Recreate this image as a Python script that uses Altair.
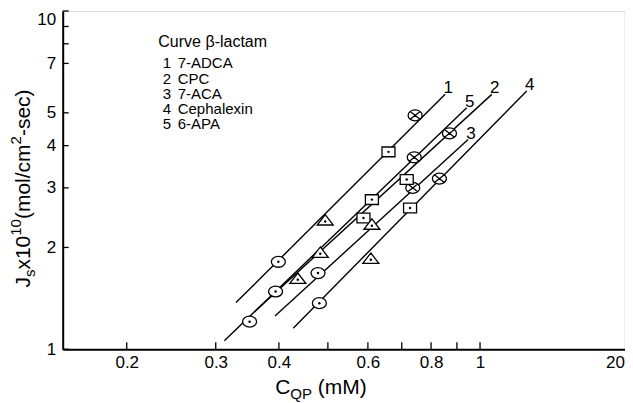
import json
import altair as alt
import pandas as pd

# ---------------- data ----------------
curve_ids = ["1", "2", "3", "4", "5"]
curve_names = ["7-ADCA", "CPC", "7-ACA", "Cephalexin", "6-APA"]
legend_header = "Curve β-lactam"

line_curve = ["1", "5", "2", "3", "4"]
line_x_start = [0.329, 0.312, 0.358, 0.393, 0.427]
line_y_start = [1.374, 1.060, 1.292, 1.255, 1.154]
line_x_end = [0.853, 0.941, 1.055, 0.947, 1.237]
line_y_end = [5.67, 5.18, 5.67, 4.17, 5.80]

point_curve = ["1", "1", "1", "1",
               "5", "5", "5", "5", "5",
               "2", "2", "2", "2",
               "3", "3", "3",
               "4", "4", "4", "4"]
point_marker = ["dot-circle", "triangle", "square", "cross-circle",
                "dot-circle", "dot-circle", "triangle", "square", "cross-circle",
                "triangle", "square", "square", "cross-circle",
                "dot-circle", "triangle", "cross-circle",
                "dot-circle", "triangle", "square", "cross-circle"]
point_x = [0.399, 0.494, 0.659, 0.744,
           0.350, 0.394, 0.483, 0.611, 0.741,
           0.436, 0.588, 0.716, 0.870,
           0.478, 0.611, 0.736,
           0.481, 0.608, 0.727, 0.831]
point_y = [1.814, 2.388, 3.834, 4.913,
           1.207, 1.482, 1.916, 2.770, 3.693,
           1.605, 2.444, 3.175, 4.346,
           1.680, 2.320, 2.999,
           1.369, 1.839, 2.617, 3.196]

x_tick_values = [0.2, 0.3, 0.4, 0.5, 0.6, 0.7, 0.8, 0.9, 1.0]
x_label_values = [0.2, 0.3, 0.4, 0.6, 0.8, 1.0, 1.931]
x_label_text = ["0.2", "0.3", "0.4", "0.6", "0.8", "1", "20"]
y_tick_values = [1, 2, 3, 4, 5, 7, 8, 9, 10]
y_label_values = [1, 2, 3, 4, 5, 7, 10]
y_label_text = ["1", "2", "3", "4", "5", "7", "10"]
x_domain = [0.1494, 1.931]
y_domain = [1, 10]

# ---------------- layout / style ----------------
FONT = "Liberation Sans"
PAD_L, PAD_T, PAD_R, PAD_B = 54.7, 3, 0.5, 53.7
W, H = 561.8, 338.3
TITLE_F, SMALL_F = 21, 15

ADV = {'J': 500, 's': 500, 'x': 500, '1': 556, '0': 556, '(': 333, 'm': 833, 'o': 556,
       'l': 222, '/': 278, 'c': 500, '2': 556, '-': 333, 'e': 556, ')': 333, 'C': 722,
       'Q': 778, 'P': 667, ' ': 278, 'M': 833}


def text_w(t, size):
    return sum(ADV.get(ch, 556) for ch in t) * size / 1000.0


K = 0.5523


def ellipse(ry):
    return (f"M -1 0 C -1 {-K*ry:.3f} {-K:.3f} {-ry:.3f} 0 {-ry:.3f} "
            f"C {K:.3f} {-ry:.3f} 1 {-K*ry:.3f} 1 0 "
            f"C 1 {K*ry:.3f} {K:.3f} {ry:.3f} 0 {ry:.3f} "
            f"C {-K:.3f} {ry:.3f} -1 {K*ry:.3f} -1 0 Z")


SHAPES = {
    "dot-circle": (ellipse(0.78), 196),
    "cross-circle": (ellipse(0.78) + " M -0.707 -0.552 L 0.707 0.552 M -0.707 0.552 L 0.707 -0.552", 196),
    "square": ("M -1 -0.75 L 1 -0.75 L 1 0.75 L -1 0.75 Z", 169),
    "triangle": ("M 0 -0.85 L 1 0.45 L -1 0.45 Z", 256),
}

x_scale = alt.Scale(type="log", domain=x_domain, nice=False)
y_scale = alt.Scale(type="log", domain=y_domain, nice=False)

x_axis = alt.Axis(
    values=x_label_values,
    labelExpr=f"{json.dumps(x_label_text)}[indexof({json.dumps(x_label_values)}, datum.value)]",
    ticks=False, grid=False, domainColor="black", domainWidth=2,
    labelColor="black", labelFontSize=17, labelFont=FONT, labelPadding=5,
    labelOverlap=False, labelFlush=False, labelBound=False,
    labelAlign={"condition": {"test": "datum.value > 1.5", "value": "right"}, "value": "center"},
    title=None,
)
y_axis = alt.Axis(
    values=y_label_values,
    labelExpr=f"{json.dumps(y_label_text)}[indexof({json.dumps(y_label_values)}, datum.value)]",
    ticks=False, grid=False, domainColor="black", domainWidth=2,
    labelColor="black", labelFontSize=17, labelFont=FONT, labelPadding=7,
    labelOverlap=False, labelFlush=False, labelBound=False,
    labelBaseline={"condition": {"test": "datum.value >= 10", "value": "top"}, "value": "middle"},
    title=None,
)


def X(f):
    return alt.X(f"{f}:Q", scale=x_scale, axis=x_axis)


def Y(f):
    return alt.Y(f"{f}:Q", scale=y_scale, axis=y_axis)


df_lines = pd.DataFrame({"curve": line_curve, "xs": line_x_start, "ys": line_y_start,
                         "xe": line_x_end, "ye": line_y_end})
df_pts = pd.DataFrame({"curve": point_curve, "marker": point_marker, "px": point_x, "py": point_y})

layers = []

# fitted lines
layers.append(alt.Chart(df_lines).mark_rule(color="black", strokeWidth=1.4).encode(
    x=X("xs"), x2="xe", y=Y("ys"), y2="ye"))

# markers
for name, (path, size) in SHAPES.items():
    layers.append(alt.Chart(df_pts).transform_filter(alt.datum.marker == name).mark_point(
        shape=path, size=size, filled=True, fill="white", stroke="black",
        strokeWidth=1.3, opacity=1, fillOpacity=1, strokeOpacity=1).encode(
        x=X("px"), y=Y("py")))

# centre dots
layers.append(alt.Chart(df_pts).transform_filter(alt.datum.marker != "cross-circle").mark_point(
    shape="circle", size=6, filled=True, color="black", opacity=1).encode(
    x=X("px"), y=Y("py")))

# curve numbers at the line ends
layers.append(alt.Chart(df_lines).mark_text(
    dx=3, dy=-6, fontSize=17, font=FONT, color="black", align="center", baseline="middle").encode(
    x=X("xe"), y=Y("ye"), text="curve:N"))

# inward ticks
layers.append(alt.Chart(pd.DataFrame({"v": x_tick_values})).mark_rule(color="black", strokeWidth=1.3).encode(
    x=X("v"), y=alt.value(H), y2=alt.value(H - 7)))
layers.append(alt.Chart(pd.DataFrame({"v": y_tick_values})).mark_rule(color="black", strokeWidth=1.3).encode(
    y=Y("v"), x=alt.value(0), x2=alt.value(6)))


def txt(t, x, y, size, angle=0, align="left", baseline="alphabetic"):
    return alt.Chart(pd.DataFrame({"t": [t]})).mark_text(
        font=FONT, fontSize=size, color="black", align=align, baseline=baseline, angle=angle).encode(
        x=alt.value(x), y=alt.value(y), text="t:N")


# legend block
layers.append(txt(legend_header, 95.6, 36.3, 16))
for i, (cid, nm) in enumerate(zip(curve_ids, curve_names)):
    yy = 57.3 + i * 15.2
    layers.append(txt(cid, 100.0, yy, 15))
    layers.append(txt(nm, 115.0, yy, 15))

# x title: C_QP (mM)
x_parts = [("C", TITLE_F, 0), ("QP", SMALL_F, 5), (" (mM)", TITLE_F, 0)]
x_total = sum(text_w(t, s) for t, s, _ in x_parts)
cx = 321 - 62.7 - x_total / 2
base_y = 383
for t, s, sh in x_parts:
    shown = t.lstrip(" ")
    lead = text_w(t[:len(t) - len(shown)], s)
    layers.append(txt(shown, cx + lead, base_y + sh, s))
    cx += text_w(t, s)

# y title: J_s x10^10 (mol/cm^2-sec), rotated
y_parts = [("J", TITLE_F, 0), ("s", SMALL_F, 5), ("x10", TITLE_F, 0), ("10", SMALL_F, -9),
           ("(mol/cm", TITLE_F, 0), ("2", SMALL_F, -9), ("-sec)", TITLE_F, 0)]
y_total = sum(text_w(t, s) for t, s, _ in y_parts)
cy = 188.5 - 11 + y_total / 2
base_x = 29.5 - 62.7
for t, s, sh in y_parts:
    layers.append(txt(t, base_x + sh, cy, s, angle=270))
    cy -= text_w(t, s)

chart = alt.layer(*layers).properties(
    width=W, height=H,
    padding={"left": PAD_L, "top": PAD_T, "right": PAD_R, "bottom": PAD_B},
    autosize=alt.AutoSizeParams(type="none"),
).configure_view(stroke="black", strokeWidth=1.5).configure(font=FONT)

chart.save("out.html", embed_options={"renderer": "svg", "actions": False})
